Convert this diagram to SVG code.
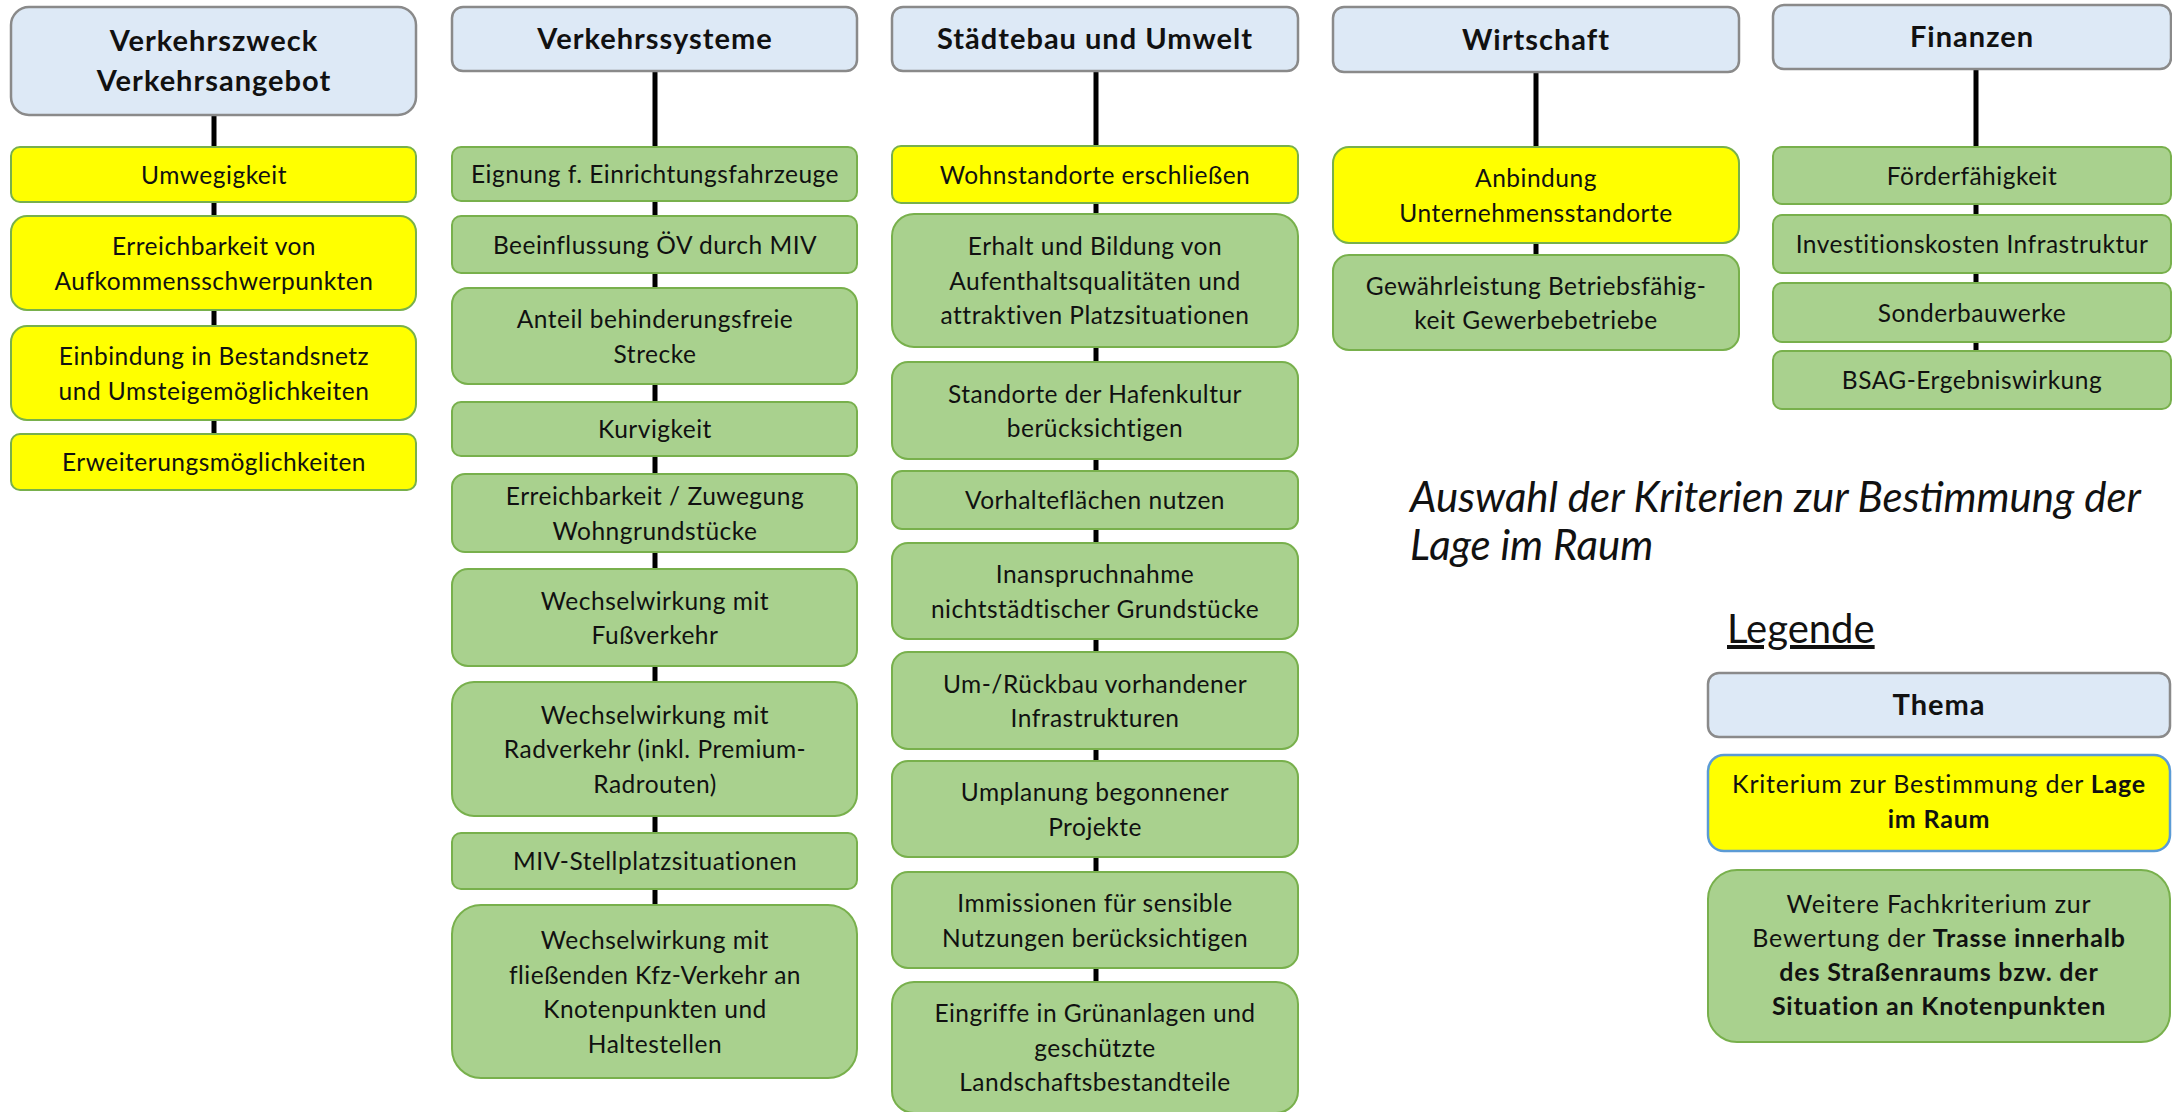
<svg xmlns="http://www.w3.org/2000/svg" width="2172" height="1112" viewBox="0 0 2172 1112">
<style>
.hdr{fill:#DDE9F6;stroke:#8A8A8A;stroke-width:2.5}
.yel{fill:#FFFF00;stroke:#78B04C;stroke-width:2}
.grn{fill:#A9D18E;stroke:#78B04C;stroke-width:2}
.lyel{fill:#FFFF00;stroke:#5B9BD5;stroke-width:2.5}
text{font-family:Lato,"Liberation Sans",sans-serif;fill:#111;text-anchor:middle}
.h{font-size:29px;font-weight:bold;letter-spacing:1px}
.t{font-size:24.5px;letter-spacing:0.5px}
.l{font-size:25px;letter-spacing:0.8px}
.b{font-weight:bold}
.title{font-size:42px;font-style:italic;text-anchor:start}
.leg{font-size:40px;text-anchor:start;text-decoration:underline}
.con{stroke:#000;stroke-width:5;fill:none}
</style>
<rect width="2172" height="1112" fill="#fff"/>
<g id="connectors">
<line class="con" x1="214" y1="115" x2="214" y2="434"/>
<line class="con" x1="655" y1="71" x2="655" y2="905"/>
<line class="con" x1="1096" y1="71" x2="1096" y2="982"/>
<line class="con" x1="1536" y1="72" x2="1536" y2="255"/>
<line class="con" x1="1976" y1="69" x2="1976" y2="351"/>
</g>
<g id="col1">
<g id="h1"><rect class="hdr" x="11" y="7" width="405" height="108" rx="18"/><text class="h" x="214" y="51">Verkehrszweck</text><text class="h" x="214" y="91">Verkehrsangebot</text></g>
<g id="c1n1"><rect class="yel" x="11" y="147" width="405" height="55" rx="9"/><text class="t" x="214" y="183.5">Umwegigkeit</text></g>
<g id="c1n2"><rect class="yel" x="11" y="216" width="405" height="94" rx="16"/><text class="t" x="214" y="255">Erreichbarkeit von</text><text class="t" x="214" y="289.5">Aufkommensschwerpunkten</text></g>
<g id="c1n3"><rect class="yel" x="11" y="326" width="405" height="94" rx="16"/><text class="t" x="214" y="365">Einbindung in Bestandsnetz</text><text class="t" x="214" y="399.5">und Umsteigemöglichkeiten</text></g>
<g id="c1n4"><rect class="yel" x="11" y="434" width="405" height="56" rx="9"/><text class="t" x="214" y="471">Erweiterungsmöglichkeiten</text></g>
</g>
<g id="col2">
<g id="h2"><rect class="hdr" x="452" y="7" width="405" height="64" rx="11"/><text class="h" x="655" y="49">Verkehrssysteme</text></g>
<g id="c2n1"><rect class="grn" x="452" y="147" width="405" height="54" rx="9"/><text class="t" x="655" y="183">Eignung f. Einrichtungsfahrzeuge</text></g>
<g id="c2n2"><rect class="grn" x="452" y="216" width="405" height="57" rx="9"/><text class="t" x="655" y="253.5">Beeinflussung ÖV durch MIV</text></g>
<g id="c2n3"><rect class="grn" x="452" y="288" width="405" height="96" rx="16"/><text class="t" x="655" y="328">Anteil behinderungsfreie</text><text class="t" x="655" y="362.5">Strecke</text></g>
<g id="c2n4"><rect class="grn" x="452" y="402" width="405" height="54" rx="9"/><text class="t" x="655" y="438">Kurvigkeit</text></g>
<g id="c2n5"><rect class="grn" x="452" y="474" width="405" height="78" rx="13"/><text class="t" x="655" y="505">Erreichbarkeit / Zuwegung</text><text class="t" x="655" y="539.5">Wohngrundstücke</text></g>
<g id="c2n6"><rect class="grn" x="452" y="569" width="405" height="97" rx="16"/><text class="t" x="655" y="609.5">Wechselwirkung mit</text><text class="t" x="655" y="644">Fußverkehr</text></g>
<g id="c2n7"><rect class="grn" x="452" y="682" width="405" height="134" rx="22"/><text class="t" x="655" y="723.5">Wechselwirkung mit</text><text class="t" x="655" y="758">Radverkehr (inkl. Premium-</text><text class="t" x="655" y="792.5">Radrouten)</text></g>
<g id="c2n8"><rect class="grn" x="452" y="833" width="405" height="56" rx="9"/><text class="t" x="655" y="870">MIV-Stellplatzsituationen</text></g>
<g id="c2n9"><rect class="grn" x="452" y="905" width="405" height="173" rx="29"/><text class="t" x="655" y="949">Wechselwirkung mit</text><text class="t" x="655" y="983.5">fließenden Kfz-Verkehr an</text><text class="t" x="655" y="1018">Knotenpunkten und</text><text class="t" x="655" y="1052.5">Haltestellen</text></g>
</g>
<g id="col3">
<g id="h3"><rect class="hdr" x="892" y="7" width="406" height="64" rx="11"/><text class="h" x="1095" y="49">Städtebau und Umwelt</text></g>
<g id="c3n1"><rect class="yel" x="892" y="146" width="406" height="57" rx="9"/><text class="t" x="1095" y="183.5">Wohnstandorte erschließen</text></g>
<g id="c3n2"><rect class="grn" x="892" y="214" width="406" height="133" rx="22"/><text class="t" x="1095" y="255">Erhalt und Bildung von</text><text class="t" x="1095" y="289.5">Aufenthaltsqualitäten und</text><text class="t" x="1095" y="324">attraktiven Platzsituationen</text></g>
<g id="c3n3"><rect class="grn" x="892" y="362" width="406" height="97" rx="16"/><text class="t" x="1095" y="402.5">Standorte der Hafenkultur</text><text class="t" x="1095" y="437">berücksichtigen</text></g>
<g id="c3n4"><rect class="grn" x="892" y="471" width="406" height="58" rx="10"/><text class="t" x="1095" y="509">Vorhalteflächen nutzen</text></g>
<g id="c3n5"><rect class="grn" x="892" y="543" width="406" height="96" rx="16"/><text class="t" x="1095" y="583">Inanspruchnahme</text><text class="t" x="1095" y="617.5">nichtstädtischer Grundstücke</text></g>
<g id="c3n6"><rect class="grn" x="892" y="652" width="406" height="97" rx="16"/><text class="t" x="1095" y="692.5">Um-/Rückbau vorhandener</text><text class="t" x="1095" y="727">Infrastrukturen</text></g>
<g id="c3n7"><rect class="grn" x="892" y="761" width="406" height="96" rx="16"/><text class="t" x="1095" y="801">Umplanung begonnener</text><text class="t" x="1095" y="835.5">Projekte</text></g>
<g id="c3n8"><rect class="grn" x="892" y="872" width="406" height="96" rx="16"/><text class="t" x="1095" y="912">Immissionen für sensible</text><text class="t" x="1095" y="946.5">Nutzungen berücksichtigen</text></g>
<g id="c3n9"><rect class="grn" x="892" y="982" width="406" height="131" rx="22"/><text class="t" x="1095" y="1022">Eingriffe in Grünanlagen und</text><text class="t" x="1095" y="1056.5">geschützte</text><text class="t" x="1095" y="1091">Landschaftsbestandteile</text></g>
</g>
<g id="col4">
<g id="h4"><rect class="hdr" x="1333" y="7" width="406" height="65" rx="11"/><text class="h" x="1536" y="49.5">Wirtschaft</text></g>
<g id="c4n1"><rect class="yel" x="1333" y="147" width="406" height="96" rx="16"/><text class="t" x="1536" y="187">Anbindung</text><text class="t" x="1536" y="221.5">Unternehmensstandorte</text></g>
<g id="c4n2"><rect class="grn" x="1333" y="255" width="406" height="95" rx="16"/><text class="t" x="1536" y="294.5">Gewährleistung Betriebsfähig-</text><text class="t" x="1536" y="329">keit Gewerbebetriebe</text></g>
</g>
<g id="col5">
<g id="h5"><rect class="hdr" x="1773" y="5" width="398" height="64" rx="11"/><text class="h" x="1972" y="47">Finanzen</text></g>
<g id="c5n1"><rect class="grn" x="1773" y="147" width="398" height="57" rx="9"/><text class="t" x="1972" y="184.5">Förderfähigkeit</text></g>
<g id="c5n2"><rect class="grn" x="1773" y="215" width="398" height="58" rx="9"/><text class="t" x="1972" y="253">Investitionskosten Infrastruktur</text></g>
<g id="c5n3"><rect class="grn" x="1773" y="283" width="398" height="59" rx="9"/><text class="t" x="1972" y="321.5">Sonderbauwerke</text></g>
<g id="c5n4"><rect class="grn" x="1773" y="351" width="398" height="58" rx="9"/><text class="t" x="1972" y="389">BSAG-Ergebniswirkung</text></g>
</g>
<g id="title">
<text class="title" x="1410" y="512">Auswahl der Kriterien zur Bestimmung der</text>
<text class="title" x="1410" y="560">Lage im Raum</text>
</g>
<g id="legend">
<text class="leg" x="1727" y="643">Legende</text>
<g id="leg1"><rect class="hdr" x="1708" y="673" width="462" height="64" rx="11"/><text class="h" x="1939" y="715">Thema</text></g>
<g id="leg2"><rect class="lyel" x="1708" y="755" width="462" height="96" rx="16"/><text class="l" x="1939" y="793">Kriterium zur Bestimmung der <tspan class="b">Lage</tspan></text><text class="l b" x="1939" y="828">im Raum</text></g>
<g id="leg3"><rect class="grn" x="1708" y="870" width="462" height="172" rx="29"/><text class="l" x="1939" y="913">Weitere Fachkriterium zur</text><text class="l" x="1939" y="947">Bewertung der <tspan class="b">Trasse innerhalb</tspan></text><text class="l b" x="1939" y="981">des Straßenraums bzw. der</text><text class="l b" x="1939" y="1015">Situation an Knotenpunkten</text></g>
</g>
</svg>
